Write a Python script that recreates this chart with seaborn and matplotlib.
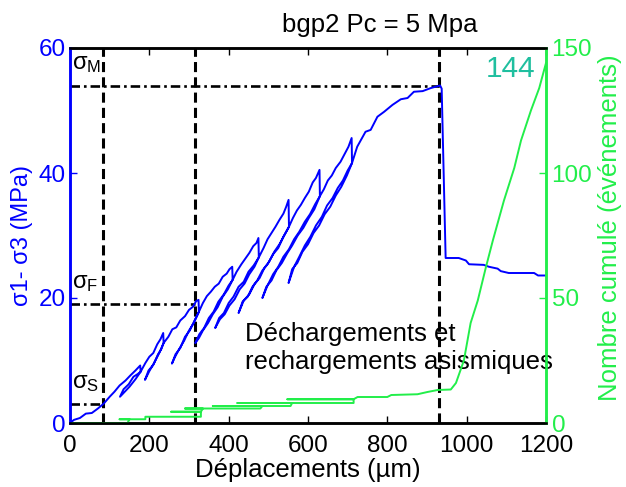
import matplotlib
matplotlib.use("Agg")
import matplotlib.pyplot as plt
import seaborn as sns
import pandas as pd

# ---- data ----
# stress path (displacement in µm, stress in MPa), in time order
blue_x = [0, 10, 25, 40, 55, 70, 85, 100, 112, 125, 140, 152, 165, 177,
          178, 165, 150, 138, 126, 135, 148, 160, 170, 178,
          190, 200, 210, 220, 228, 235,
          236, 225, 212, 200, 189, 198, 210, 222, 230, 236,
          248, 258, 268, 278, 290, 300, 310, 318, 324,
          325, 312, 300, 288, 275, 265, 257, 266, 278, 290, 302, 314, 325,
          335, 345, 355, 365, 375, 385, 395, 402, 409,
          410, 398, 385, 372, 360, 348, 335, 325, 316, 326, 338, 350, 362, 374, 388, 400, 410,
          420, 432, 442, 452, 462, 470, 475,
          476, 465, 452, 440, 428, 415, 402, 390, 378, 366, 376, 388, 400, 412, 425, 438, 450, 463, 476,
          488, 498, 508, 518, 528, 538, 545, 551,
          552, 540, 528, 515, 502, 490, 478, 465, 452, 438, 425, 435, 448, 460, 472, 485, 498, 512, 525, 538, 552,
          562, 572, 582, 592, 602, 612, 620, 629,
          630, 618, 605, 592, 578, 565, 552, 538, 525, 512, 498, 485, 495, 508, 520, 534, 548, 560, 574, 588, 602, 616, 630,
          640, 650, 660, 670, 682, 692, 702, 710,
          711, 700, 688, 675, 662, 648, 635, 620, 606, 592, 578, 565, 551, 560, 573, 586, 600, 614, 628, 642, 656, 670, 684, 698, 711,
          724, 745, 758, 775, 792, 813, 834, 851, 867, 889, 910, 933, 937, 947,
          980, 998, 1006, 1043, 1056, 1078, 1086, 1106, 1170, 1180, 1200]
blue_y = [0, 0.5, 0.8, 1.5, 1.6, 2.3, 3.1, 4.2, 5.0, 6.0, 6.8, 7.6, 8.4, 9.2,
          8.2, 7.0, 5.8, 5.0, 4.2, 5.4, 6.2, 7.4, 7.8, 8.2,
          9.6, 10.6, 11.2, 12.6, 13.4, 14.4,
          12.8, 11.2, 9.6, 8.3, 6.9, 8.4, 9.3, 11.0, 11.8, 12.8,
          13.8, 15.0, 15.3, 16.4, 17.1, 18.1, 18.6, 19.5, 19.7,
          17.8, 16.0, 14.8, 13.2, 11.8, 10.6, 9.5, 11.0, 12.0, 13.8, 14.8, 16.4, 17.8,
          19.2, 20.3, 21.0, 21.8, 22.3, 23.4, 23.9, 24.6, 25.0,
          22.9, 21.4, 20.2, 18.5, 17.4, 16.0, 14.8, 13.6, 12.8, 14.2, 15.2, 16.8, 17.8, 19.4, 20.6, 22.0, 22.9,
          24.2, 25.4, 26.3, 27.2, 28.3, 28.8, 29.6,
          26.5, 25.0, 23.8, 22.3, 21.4, 19.8, 18.8, 17.4, 16.6, 15.2, 16.8, 17.6, 19.2, 20.2, 21.8, 22.6, 24.2, 25.2, 26.5,
          28.0, 29.4, 30.4, 31.4, 32.5, 33.5, 34.6, 35.7,
          31.4, 30.0, 28.6, 27.4, 25.8, 24.8, 23.2, 22.2, 20.6, 19.6, 17.6, 19.4, 20.2, 21.8, 22.8, 24.4, 25.4, 27.0, 28.0, 29.8, 31.4,
          32.8, 34.0, 34.9, 36.0, 37.0, 38.5, 39.2, 40.5,
          36.3, 35.0, 33.4, 32.2, 30.6, 29.4, 27.8, 26.6, 25.0, 23.8, 22.0, 20.0, 21.8, 22.8, 24.4, 25.6, 27.2, 28.4, 30.0, 31.2, 32.8, 34.2, 36.3,
          37.4, 38.8, 39.6, 40.8, 41.8, 43.0, 44.2, 45.6,
          41.6, 40.4, 38.8, 37.6, 36.0, 34.8, 33.0, 31.6, 29.8, 28.4, 26.6, 25.0, 22.4, 24.6, 25.6, 27.4, 28.6, 30.4, 31.6, 33.4, 34.6, 36.4, 37.8, 39.6, 41.6,
          44.2, 46.6, 46.9, 49.0, 49.8, 50.9, 51.8, 52.0, 53.0, 53.1, 53.6, 54.0, 53.5, 26.4,
          26.4, 26.0, 25.4, 25.3, 25.0, 24.7, 24.3, 24.0, 24.0, 23.6, 23.6]

# cumulative event count vs displacement, in time order
green_x = [0, 145, 150, 125, 190, 190, 330, 330, 255, 330, 335, 290, 480, 485, 360,
           556, 560, 422, 715, 715, 548, 715, 725, 800, 810, 876, 901, 927, 960,
           973, 993, 1010, 1028, 1048, 1066, 1094, 1120, 1137, 1162, 1183, 1200]
green_y = [0, 0, 1.5, 1.5, 1.5, 2.5, 2.5, 4.5, 4.5, 4.5, 5.8, 5.8, 5.8, 6.8, 6.8,
           6.8, 8, 8, 8, 9.5, 9.5, 9.5, 10.4, 10.4, 11.2, 11.5, 12.4, 13.2, 13.4,
           16, 25, 40, 49, 62, 73, 89, 102, 113, 125, 134, 144]

sigma_levels = [3, 19, 54]          # σS, σF, σM (MPa)
sigma_ends = [83, 316, 930]         # displacement where each level line ends
sigma_names = ["S", "F", "M"]
vlines_x = [83, 316, 930]
total_events = "144"

x_ticks = [0, 200, 400, 600, 800, 1000, 1200]
y_ticks = [0, 20, 40, 60]
y2_ticks = [0, 50, 100, 150]

BLUE = "#0000ff"
GREEN = "#22ee4a"
TEAL = "#1fbf9f"

sns.set_style("white")
plt.rcParams["font.family"] = ["Liberation Sans", "DejaVu Sans"]
plt.rcParams["mathtext.fontset"] = "custom"
plt.rcParams["mathtext.rm"] = "Liberation Sans"
plt.rcParams["mathtext.it"] = "Liberation Sans"
plt.rcParams["mathtext.sf"] = "Liberation Sans"

fig = plt.figure(figsize=(6.26, 4.87), dpi=100)
ax = fig.add_axes([70 / 626, 1 - 423 / 487, 476 / 626, 375 / 487])
ax2 = ax.twinx()

df_b = pd.DataFrame({"x": blue_x, "y": blue_y})
df_g = pd.DataFrame({"x": green_x, "y": green_y})

sns.lineplot(data=df_g, x="x", y="y", sort=False, estimator=None, ax=ax2,
             color=GREEN, lw=1.4)
sns.lineplot(data=df_b, x="x", y="y", sort=False, estimator=None, ax=ax,
             color=BLUE, lw=1.4)

# reference lines
for xv in vlines_x:
    ax.axvline(xv, color="black", ls=(0, (3.3, 1.7)), lw=2.2, zorder=1)
for lev, end in zip(sigma_levels, sigma_ends):
    ax.plot([0, end], [lev, lev], color="black", ls=(0, (3.6, 1.5, 1.0, 1.5)), lw=1.9, zorder=1)

for lev, name in zip(sigma_levels, sigma_names):
    ax.text(6, lev + 3.4, r"$\sigma_{\mathrm{" + name + "}}$", fontsize=17,
            color="black", va="center", ha="left")

ax.text(442, 12.0, "Déchargements et\nrechargements asismiques",
        fontsize=18.5, color="black", ha="left", va="center", linespacing=1.25)

ax2.text(1048, 141.5, total_events, color=TEAL, fontsize=21.5, ha="left", va="center")

ax.set_xlim(0, 1200)
ax.set_ylim(0, 60)
ax2.set_ylim(0, 150)
ax.set_xticks(x_ticks)
ax.set_yticks(y_ticks)
ax2.set_yticks(y2_ticks)

ax.set_xlabel("Déplacements (µm)", fontsize=18.5, color="black", labelpad=0)
ax.set_ylabel("σ1- σ3 (MPa)", fontsize=17, color=BLUE)
ax2.set_ylabel("Nombre cumulé (événements)", fontsize=18.5, color=GREEN)
ax.yaxis.set_label_coords(-0.078, 0.5)
ax2.yaxis.set_label_coords(1.11, 0.52)

ax.tick_params(axis="x", direction="in", length=5, width=1, labelsize=17.5,
               colors="black", top=True, bottom=True, pad=9)
ax.tick_params(axis="y", direction="in", length=5, width=1, labelsize=17.5,
               colors=BLUE, pad=3)
ax2.tick_params(axis="y", direction="in", length=5, width=1, labelsize=17.5,
                colors=GREEN, pad=4)

for a in (ax, ax2):
    for s in a.spines.values():
        s.set_linewidth(1.8)
    a.spines["top"].set_color("black")
    a.spines["bottom"].set_color("black")
    a.spines["left"].set_color(BLUE)
    a.spines["right"].set_color(GREEN)
    a.spines["left"].set_visible(True)
    a.spines["right"].set_visible(True)

fig.text(380 / 626, 1 - 25 / 487, "bgp2 Pc = 5 Mpa", fontsize=18.5, ha="center",
         va="center", color="black")

fig.savefig("out.png", dpi=100)
